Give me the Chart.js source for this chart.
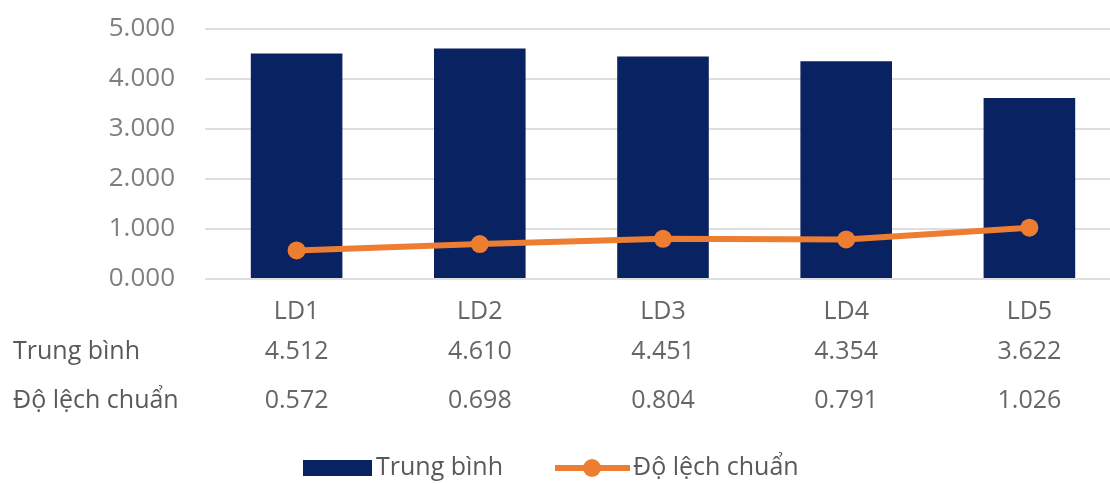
<!DOCTYPE html>
<html lang="vi">
<head>
    <meta charset="UTF-8">
    <title>Trung bình và độ lệch chuẩn</title>
    <script src="https://cdn.jsdelivr.net/npm/chart.js@4"></script>
    <style>
        html, body {
            margin: 0;
            padding: 0;
            background: #fff;
            overflow: hidden;
        }
        #chart-box {
            width: 1130px;
            height: 484px;
        }
    </style>
</head>
<body>
    <div id="chart-box">
        <canvas id="ld-chart" width="1130" height="484"></canvas>
    </div>
    <script>
        const categories = ['LD1', 'LD2', 'LD3', 'LD4', 'LD5'];
        const meanValues = [4.512, 4.610, 4.451, 4.354, 3.622];
        const sdValues = [0.572, 0.698, 0.804, 0.791, 1.026];
        const yTicks = [0, 1, 2, 3, 4, 5];

        const FONT = '"Open Sans", "Noto Sans", sans-serif';
        const NAVY = '#092262';
        const ORANGE = '#ed7d31';

        // data table under the x axis + legend, drawn on the same canvas
        const tableAndLegend = {
            id: 'tableAndLegend',
            afterDraw(chart) {
                const ctx = chart.ctx;
                const x = chart.scales.x;
                const rows = [
                    { label: chart.data.datasets[1].label, values: chart.data.datasets[1].data, y: 352 },
                    { label: chart.data.datasets[0].label, values: chart.data.datasets[0].data, y: 401 }
                ];
                ctx.save();
                ctx.font = '25px ' + FONT;
                ctx.textBaseline = 'middle';
                rows.forEach(row => {
                    ctx.fillStyle = '#595959';
                    ctx.textAlign = 'left';
                    ctx.fillText(row.label, 13, row.y);
                    ctx.fillStyle = '#666666';
                    ctx.textAlign = 'center';
                    row.values.forEach((v, i) => {
                        ctx.fillText(v.toFixed(3), x.getPixelForValue(i), row.y);
                    });
                });

                // legend
                const ly = 468;
                let lx = 303;
                const bar = chart.data.datasets[1];
                const line = chart.data.datasets[0];
                ctx.textAlign = 'left';
                ctx.fillStyle = bar.backgroundColor;
                ctx.fillRect(lx, ly - 8, 69, 16);
                lx += 73;
                ctx.fillStyle = '#595959';
                ctx.fillText(bar.label, lx, ly);
                lx += ctx.measureText(bar.label).width + 52;

                ctx.strokeStyle = line.borderColor;
                ctx.lineWidth = 6;
                ctx.beginPath();
                ctx.moveTo(lx, ly);
                ctx.lineTo(lx + 75, ly);
                ctx.stroke();
                ctx.fillStyle = line.borderColor;
                ctx.beginPath();
                ctx.arc(lx + 37, ly, 9, 0, Math.PI * 2);
                ctx.fill();
                lx += 78;
                ctx.fillStyle = '#595959';
                ctx.fillText(line.label, lx, ly);
                ctx.restore();
            }
        };

        new Chart(document.getElementById('ld-chart'), {
            data: {
                labels: categories,
                datasets: [
                    {
                        type: 'line',
                        label: 'Độ lệch chuẩn',
                        data: sdValues,
                        borderColor: ORANGE,
                        backgroundColor: ORANGE,
                        borderWidth: 6,
                        tension: 0,
                        pointRadius: 9,
                        pointBorderWidth: 0,
                        pointBackgroundColor: ORANGE,
                        order: 0
                    },
                    {
                        type: 'bar',
                        label: 'Trung bình',
                        data: meanValues,
                        backgroundColor: NAVY,
                        barPercentage: 0.5,
                        categoryPercentage: 1,
                        order: 1
                    }
                ]
            },
            options: {
                responsive: false,
                animation: false,
                layout: { padding: { top: 29, right: 7, bottom: 0, left: 0 } },
                plugins: {
                    legend: { display: false },
                    tooltip: { enabled: false }
                },
                scales: {
                    x: {
                        grid: { display: false },
                        border: { display: false },
                        ticks: {
                            color: '#666666',
                            font: { family: FONT, size: 25 },
                            padding: 10
                        },
                        afterFit(scale) { scale.height = 205; }
                    },
                    y: {
                        min: 0,
                        max: 5,
                        afterBuildTicks(scale) {
                            scale.ticks = yTicks.map(v => ({ value: v }));
                        },
                        grid: { color: '#dedede', lineWidth: 2, drawTicks: false },
                        border: { display: false },
                        ticks: {
                            color: '#7f7f7f',
                            font: { family: FONT, size: 26 },
                            padding: 30,
                            callback: v => v.toFixed(3)
                        },
                        afterFit(scale) {
                            scale.width = 205;
                            // tick padding would otherwise push the plot top down
                            scale.paddingTop = 0;
                            scale.paddingBottom = 0;
                        }
                    }
                }
            },
            plugins: [tableAndLegend]
        });
    </script>
</body>
</html>
